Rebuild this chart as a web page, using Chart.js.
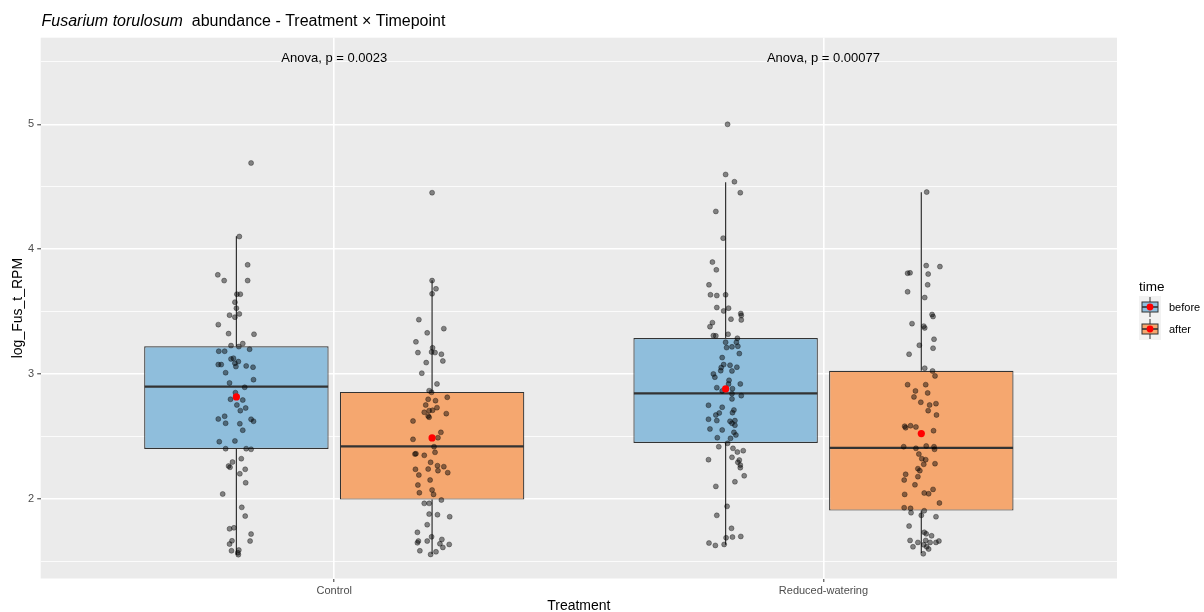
<!DOCTYPE html>
<html><head><meta charset="utf-8">
<script src="https://cdn.jsdelivr.net/npm/chart.js@4.4.1/dist/chart.umd.min.js"></script>
<style>html,body{margin:0;padding:0;background:#fff}#wrap{width:1204px;height:612px}</style>
</head><body><div id="wrap"><canvas id="c" width="1204" height="612"></canvas></div>
<script>
// ---------- data ----------
const treatments = ['Control', 'Reduced-watering'];
const timepoints = ['before', 'after'];
const yMajorTicks = [2, 3, 4, 5];
const yMinorTicks = [1.5, 2.5, 3.5, 4.5, 5.5];
const anovaLabels = ['Anova, p = 0.0023', 'Anova, p = 0.00077'];
const anovaLabelY = 5.53;
const titleItalic = 'Fusarium torulosum';
const titleRest = '  abundance - Treatment \u00d7 Timepoint';
const xTitle = 'Treatment';
const yTitle = 'log_Fus_t_RPM';
const legendTitle = 'time';

// box statistics per treatment (Control, Reduced-watering)
const beforeQ1 = [2.399, 2.447];
const beforeMedian = [2.898, 2.845];
const beforeQ3 = [3.221, 3.288];
const beforeWhiskerLo = [1.552, 1.632];
const beforeWhiskerHi = [4.103, 4.535];
const beforeMean = [2.816, 2.880];

const afterQ1 = [1.993, 1.905];
const afterMedian = [2.420, 2.407];
const afterQ3 = [2.856, 3.026];
const afterWhiskerLo = [1.558, 1.566];
const afterWhiskerHi = [3.750, 4.455];
const afterMean = [2.487, 2.522];

// jittered observations (value, horizontal jitter in category units)
const controlBeforeVals = [4.69,4.101,3.874,3.794,3.748,3.748,3.639,3.639,3.575,3.527,3.471,3.481,3.455,3.395,3.323,3.318,3.227,3.219,3.243,3.198,3.182,3.182,3.120,3.126,3.099,3.086,3.075,3.075,3.059,3.064,3.054,3.010,2.954,2.928,2.893,2.850,2.797,2.791,2.751,2.727,2.706,2.639,2.661,2.637,2.621,2.605,2.601,2.549,2.457,2.463,2.401,2.401,2.396,2.321,2.294,2.262,2.252,2.236,2.200,2.128,2.038,1.931,1.861,1.759,1.767,1.717,1.661,1.663,1.637,1.583,1.589,1.567,1.552];
const controlBeforeJit = [0.030,0.006,0.023,-0.038,-0.025,0.023,0.001,0.008,-0.003,0,-0.014,0.006,-0.003,-0.037,-0.016,0.036,-0.011,0.005,0.013,0.027,-0.036,-0.024,-0.011,-0.006,0.004,-0.003,-0.037,-0.031,-0.001,0.020,0.034,-0.022,0.035,-0.014,0.017,-0.002,-0.012,0.013,0.001,0.019,0.008,-0.037,-0.024,0.030,0.035,-0.022,0.007,0.013,-0.035,-0.003,-0.022,0.020,0.030,0.010,-0.008,-0.016,-0.013,0.018,0.007,0.019,-0.028,0.011,0.018,-0.014,-0.005,0.030,0.028,-0.009,-0.014,-0.010,0.005,0.003,0.004];

const controlAfterVals = [4.452,3.748,3.682,3.642,3.435,3.363,3.329,3.257,3.209,3.171,3.176,3.171,3.158,3.104,3.091,3.006,2.920,2.866,2.853,2.813,2.797,2.786,2.751,2.730,2.706,2.709,2.693,2.682,2.663,2.653,2.623,2.532,2.476,2.489,2.417,2.358,2.361,2.348,2.372,2.292,2.265,2.257,2.236,2.238,2.225,2.209,2.190,2.150,2.110,2.070,2.048,2.035,1.990,1.963,1.963,1.877,1.872,1.856,1.792,1.731,1.695,1.661,1.647,1.661,1.674,1.639,1.634,1.610,1.583,1.575,1.554];
const controlAfterJit = [0,0,0.008,0,-0.027,0.024,-0.010,-0.033,0.001,-0.029,-0.001,0.006,0.019,0.022,-0.012,-0.021,0.010,-0.006,-0.001,0.031,-0.008,0.007,-0.013,0.010,-0.006,0.001,-0.016,0.029,-0.008,-0.006,-0.039,0.018,-0.039,0.012,0.004,-0.035,-0.033,-0.016,0.006,-0.003,0.011,0.024,-0.034,-0.008,0.012,0.032,-0.027,-0.004,-0.029,0,-0.026,0.003,0.019,-0.016,-0.006,-0.006,0.011,0.036,-0.010,-0.030,-0.001,-0.028,-0.030,-0.010,0.020,0.016,0.035,0.022,-0.025,0.008,-0.003];

const reducedBeforeVals = [5.000,4.598,4.540,4.452,4.302,4.088,3.896,3.834,3.714,3.634,3.628,3.634,3.532,3.527,3.505,3.484,3.468,3.439,3.433,3.411,3.379,3.307,3.305,3.318,3.286,3.254,3.254,3.217,3.211,3.222,3.163,3.131,3.075,3.070,3.051,3.054,3.026,3.024,3.000,2.974,2.949,2.920,2.890,2.920,2.882,2.864,2.842,2.826,2.800,2.749,2.733,2.711,2.690,2.687,2.671,2.637,2.626,2.621,2.626,2.605,2.589,2.559,2.551,2.532,2.511,2.489,2.484,2.444,2.417,2.404,2.385,2.374,2.332,2.313,2.310,2.292,2.270,2.249,2.184,2.136,2.099,1.939,1.867,1.763,1.687,1.693,1.698,1.645,1.626,1.634];
const reducedBeforeJit = [0.004,0,0.018,0.030,-0.020,-0.005,-0.027,-0.019,-0.034,-0.031,-0.018,0,-0.018,0.006,-0.004,0.031,0.032,0.011,0.032,-0.027,-0.032,-0.025,-0.020,0.005,0.024,0,0.022,0.013,0.002,0.025,0.028,-0.007,-0.004,0.009,-0.009,0.023,-0.010,0.013,-0.025,-0.022,0.007,0.030,-0.018,0.006,0.014,-0.007,0.013,0.032,0.013,-0.035,-0.007,0.017,0.014,-0.013,-0.020,-0.035,-0.018,0.009,0.019,0.013,0.019,-0.032,-0.007,0.017,0.021,-0.017,0.010,0.004,-0.014,0.015,0.036,0.024,0.013,-0.035,0.028,0.025,0.030,0.030,0.038,0.019,-0.020,0.003,-0.018,0.012,0.001,0.014,0.031,-0.034,-0.021,-0.003];

const reducedAfterVals = [4.457,3.868,3.860,3.807,3.810,3.800,3.714,3.658,3.612,3.476,3.460,3.403,3.383,3.369,3.230,3.278,3.206,3.158,3.046,3.024,2.984,2.914,2.914,2.864,2.848,2.816,2.773,2.762,2.751,2.706,2.671,2.581,2.569,2.585,2.575,2.545,2.417,2.404,2.423,2.417,2.396,2.358,2.321,2.313,2.276,2.281,2.241,2.225,2.196,2.177,2.150,2.112,2.075,2.046,2.040,2.035,1.966,1.928,1.923,1.888,1.904,1.867,1.856,1.781,1.731,1.719,1.703,1.666,1.650,1.666,1.650,1.650,1.661,1.615,1.631,1.615,1.597,1.559];
const reducedAfterJit = [0.011,0.010,0.038,-0.028,-0.023,0.014,0.013,-0.028,0.007,0.022,0.024,-0.019,0.005,0.007,-0.004,0.026,0.024,-0.025,0.007,0.023,0.028,-0.028,0.009,-0.012,0.013,-0.015,-0.001,0.030,0.017,0.014,0.031,-0.034,-0.032,-0.022,-0.011,0.025,-0.036,-0.011,0.010,0.026,0.027,-0.005,0.001,0.009,0.005,0.028,-0.007,-0.003,-0.032,-0.007,-0.035,-0.013,0.024,0.006,0.015,-0.034,0.037,-0.035,-0.022,-0.021,0.006,0,0.030,-0.025,0.006,0.010,0.021,-0.023,-0.007,0.009,0.018,0.030,0.036,-0.017,0.005,0.011,0.015,0.004];

// ---------- layout / style constants ----------
const DODGE = 0.2;          // half of dodge width
const BOX_W = 0.377;        // box width in category units
const Y_MIN = 1.361, Y_MAX = 5.694;
const fillColors = ['#8FBEDC', '#F5A76F'];
const INK = '#333333';
const FONT = '"Liberation Sans", Arial, Helvetica, sans-serif';

const stats = [
  {q1: beforeQ1, med: beforeMedian, q3: beforeQ3, lo: beforeWhiskerLo, hi: beforeWhiskerHi, mean: beforeMean},
  {q1: afterQ1, med: afterMedian, q3: afterQ3, lo: afterWhiskerLo, hi: afterWhiskerHi, mean: afterMean}
];
const obs = [
  [[controlBeforeVals, controlBeforeJit], [controlAfterVals, controlAfterJit]],
  [[reducedBeforeVals, reducedBeforeJit], [reducedAfterVals, reducedAfterJit]]
];
const xCenter = (ti, tp) => ti + 1 + (tp === 0 ? -DODGE : DODGE);

// ---------- datasets ----------
const datasets = [];
timepoints.forEach((tp, p) => {
  datasets.push({
    type: 'bar', label: tp, isBox: true, stat: stats[p],
    data: treatments.map((t, i) => ({x: xCenter(i, p), y: [stats[p].q1[i], stats[p].q3[i]]})),
    backgroundColor: fillColors[p], borderColor: INK, borderWidth: 1.2, borderSkipped: false,
    grouped: false, categoryPercentage: 1, barPercentage: BOX_W / (2 * DODGE), order: 3
  });
});
treatments.forEach((t, i) => {
  timepoints.forEach((tp, p) => {
    const [vals, jit] = obs[i][p];
    datasets.push({
      type: 'scatter', label: t + ' ' + tp + ' obs',
      data: vals.map((v, k) => ({x: xCenter(i, p) + (jit[k] || 0), y: v})),
      backgroundColor: 'rgba(0,0,0,0.45)', borderColor: 'rgba(0,0,0,0.55)', borderWidth: 0.6, pointRadius: 2.5, order: 2
    });
  });
});
const meanPts = [];
treatments.forEach((t, i) => timepoints.forEach((tp, p) => meanPts.push({x: xCenter(i, p), y: stats[p].mean[i]})));
datasets.push({type: 'scatter', label: 'mean', data: meanPts, backgroundColor: '#FF0000', borderWidth: 0, pointRadius: 3.6, order: 1});

// ---------- plugins ----------
const ggTheme = {
  id: 'ggTheme',
  beforeDraw(chart) {
    const {ctx, chartArea: a} = chart;
    ctx.save(); ctx.fillStyle = '#EBEBEB'; ctx.fillRect(a.left, a.top, a.right - a.left, a.bottom - a.top); ctx.restore();
  },
  beforeDatasetDraw(chart, args) {
    const ds = chart.data.datasets[args.index];
    if (!ds.isBox) return;
    const y = chart.scales.y, ctx = chart.ctx;
    ctx.save(); ctx.strokeStyle = INK; ctx.lineWidth = 1.2;
    args.meta.data.forEach((el, i) => {
      ctx.beginPath();
      ctx.moveTo(el.x, y.getPixelForValue(ds.stat.hi[i])); ctx.lineTo(el.x, y.getPixelForValue(ds.stat.q3[i]));
      ctx.moveTo(el.x, y.getPixelForValue(ds.stat.q1[i])); ctx.lineTo(el.x, y.getPixelForValue(ds.stat.lo[i]));
      ctx.stroke();
    });
    ctx.restore();
  },
  afterDatasetDraw(chart, args) {
    const ds = chart.data.datasets[args.index];
    if (!ds.isBox) return;
    const y = chart.scales.y, ctx = chart.ctx;
    ctx.save(); ctx.strokeStyle = INK; ctx.lineWidth = 2.3;
    args.meta.data.forEach((el, i) => {
      const py = y.getPixelForValue(ds.stat.med[i]);
      ctx.beginPath(); ctx.moveTo(el.x - el.width / 2 + 0.5, py); ctx.lineTo(el.x + el.width / 2 - 0.5, py); ctx.stroke();
    });
    ctx.restore();
  },
  afterDraw(chart) {
    const {ctx, chartArea: a, scales} = chart;
    ctx.save();
    // title
    ctx.fillStyle = '#000'; ctx.textBaseline = 'alphabetic'; ctx.textAlign = 'left';
    ctx.font = 'italic 16px ' + FONT;
    ctx.fillText(titleItalic, 41.5, 25.7);
    const w = ctx.measureText(titleItalic).width;
    ctx.font = '16px ' + FONT;
    ctx.fillText(titleRest, 41.5 + w, 25.7);
    // anova labels
    ctx.font = '13px ' + FONT; ctx.textAlign = 'center'; ctx.textBaseline = 'middle';
    anovaLabels.forEach((s, i) => ctx.fillText(s, scales.x.getPixelForValue(i + 1), scales.y.getPixelForValue(anovaLabelY)));
    // axis titles
    ctx.font = '14px ' + FONT;
    ctx.fillText(xTitle, (a.left + a.right) / 2, 606);
    ctx.save(); ctx.translate(18.5, (a.top + a.bottom) / 2); ctx.rotate(-Math.PI / 2); ctx.fillText(yTitle, 0, 0); ctx.restore();
    // legend
    const lx = 1139, ly = 296, ks = 22;
    ctx.textAlign = 'left'; ctx.textBaseline = 'alphabetic'; ctx.font = '13.5px ' + FONT;
    ctx.fillText(legendTitle, lx, 291);
    chart.data.datasets.filter(d => d.isBox).forEach((d, i) => {
      const top = ly + i * ks, cx = lx + ks / 2, cy = top + ks / 2;
      ctx.fillStyle = '#F2F2F2'; ctx.fillRect(lx, top, ks, ks);
      ctx.strokeStyle = INK; ctx.lineWidth = 1;
      ctx.beginPath(); ctx.moveTo(cx, top + 1); ctx.lineTo(cx, top + 6); ctx.moveTo(cx, top + 16); ctx.lineTo(cx, top + ks - 1); ctx.stroke();
      ctx.fillStyle = d.backgroundColor; ctx.fillRect(lx + 3, top + 6, ks - 6, 10);
      ctx.strokeRect(lx + 3, top + 6, ks - 6, 10);
      ctx.lineWidth = 1.6; ctx.beginPath(); ctx.moveTo(lx + 3, cy); ctx.lineTo(lx + ks - 3, cy); ctx.stroke();
      ctx.fillStyle = '#FF0000'; ctx.beginPath(); ctx.arc(cx, cy, 3.4, 0, Math.PI * 2); ctx.fill();
      ctx.fillStyle = '#000'; ctx.font = '11px ' + FONT; ctx.textBaseline = 'middle';
      ctx.fillText(d.label, lx + 30, cy + 1);
    });
    ctx.restore();
  }
};

Chart.defaults.font.family = FONT;
new Chart(document.getElementById('c'), {
  type: 'bar',
  data: {datasets},
  options: {
    responsive: false, animation: false, devicePixelRatio: 1,
    layout: {padding: {top: 37.7, right: 87, bottom: 0, left: 0}},
    plugins: {legend: {display: false}, title: {display: false}, tooltip: {enabled: false}},
    scales: {
      x: {
        type: 'linear', min: 0.4, max: 2.6, offset: false,
        afterBuildTicks: s => { s.ticks = treatments.map((t, i) => ({value: i + 1})); },
        afterFit: s => { s.height = 33.5; },
        ticks: {callback: v => treatments[Math.round(v) - 1] || '', color: '#4D4D4D', font: {size: 11}, padding: 2, autoSkip: false, maxRotation: 0},
        grid: {color: '#FFFFFF', lineWidth: 1.6, offset: false, tickLength: 3.5, tickColor: '#333333', tickWidth: 1},
        border: {display: false}
      },
      y: {
        type: 'linear', min: Y_MIN, max: Y_MAX, beginAtZero: false,
        afterBuildTicks: s => { s.ticks = yMinorTicks.concat(yMajorTicks).sort((a, b) => a - b).map(v => ({value: v})); },
        afterFit: s => { s.width = 40.7; },
        ticks: {callback: v => yMajorTicks.includes(v) ? String(v) : '', color: '#4D4D4D', font: {size: 11}, padding: 3},
        grid: {
          color: '#FFFFFF',
          lineWidth: c => (c.tick && yMajorTicks.includes(c.tick.value)) ? 1.6 : 0.8,
          tickColor: c => (c.tick && yMajorTicks.includes(c.tick.value)) ? '#333333' : 'rgba(0,0,0,0)',
          tickWidth: 1, tickLength: 3.5
        },
        border: {display: false}
      }
    }
  },
  plugins: [ggTheme]
});
</script></body></html>
